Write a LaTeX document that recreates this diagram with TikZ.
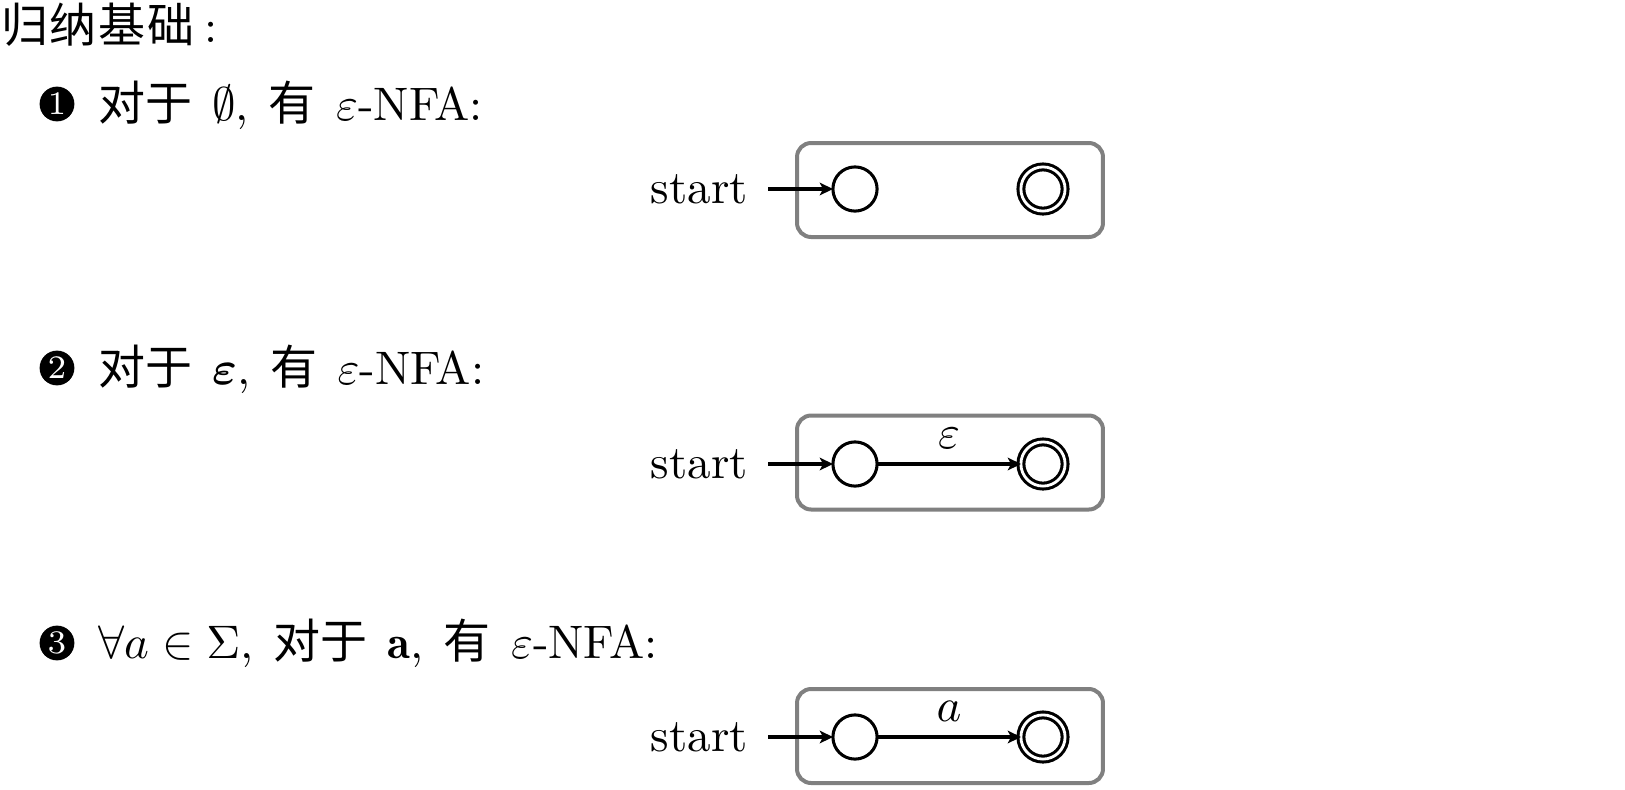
\documentclass[tikz,border=0pt]{standalone}
\usepackage{amsmath,amssymb}
\usepackage{fontspec}
\newfontfamily\cjk{Noto Sans CJK SC}
\newcommand\cjgap{\hspace{0.43em}}
\usetikzlibrary{arrows.meta}
\begin{document}
\begin{tikzpicture}[x=0.21277pt,y=-0.21277pt,
  every node/.style={inner sep=0pt, outer sep=0pt},
  txt/.style={anchor=base west},
  dingc/.style={circle, fill=black, minimum size=7.4pt, text=white, font=\fontsize{7}{7}\selectfont},
  stateq/.style={circle, draw, line width=0.65pt, minimum size=9.4pt},
  accq/.style={stateq, double, double distance=0.6pt},
  framebox/.style={draw=gray, line width=0.85pt, rounded corners=3pt, minimum width=65.1pt, minimum height=20pt},
  arr/.style={line width=0.65pt, -{Stealth[length=2.8pt, width=2.7pt, inset=0.7pt]}},
  startlbl/.style={anchor=east, inner xsep=4.3pt}
]
\useasboundingbox (0,0) rectangle (1625,790);

% title
\node[txt] (title) at (1,42) {{\cjk 归\kern0.04em纳\kern0.04em基\kern0.04em础}\kern0.2em:};

% item 1
\node[dingc] (d1) at (57,104) {1};
\node[txt] (t1) at (98,120) {{\cjk 对于}\cjgap$\emptyset$,\cjgap{\cjk 有}\cjgap$\varepsilon$-NFA:};
\node[framebox] (f1) at (950,190) {};
\node[stateq] (a0) at (855,189) {};
\node[accq] (a1) at (1043,189) {};
\node[startlbl] (s1) at ([xshift=-13.8pt]a0.west) {start};
\draw[arr] (s1) -- (a0);

% item 2
\node[dingc] (d2) at (57,368) {2};
\node[txt] (t2) at (98,384) {{\cjk 对于}\cjgap$\boldsymbol{\varepsilon}$,\cjgap{\cjk 有}\cjgap$\varepsilon$-NFA:};
\node[framebox] (f2) at (950,462.5) {};
\node[stateq] (b0) at (855,464) {};
\node[accq] (b1) at (1043,464) {};
\node[startlbl] (s2) at ([xshift=-13.8pt]b0.west) {start};
\draw[arr] (s2) -- (b0);
\draw[arr] (b0) -- node[above=3.2pt] (l2) {$\varepsilon$} (b1);

% item 3
\node[dingc] (d3) at (57,643) {3};
\node[txt] (t3) at (98,658) {$\forall a \in \Sigma$,\cjgap{\cjk 对于}\cjgap$\mathbf{a}$,\cjgap{\cjk 有}\cjgap$\varepsilon$-NFA:};
\node[framebox] (f3) at (950,736) {};
\node[stateq] (c0) at (855,737) {};
\node[accq] (c1) at (1043,737) {};
\node[startlbl] (s3) at ([xshift=-13.8pt]c0.west) {start};
\draw[arr] (s3) -- (c0);
\draw[arr] (c0) -- node[above=3.2pt] (l3) {$a$} (c1);
\end{tikzpicture}
\end{document}
